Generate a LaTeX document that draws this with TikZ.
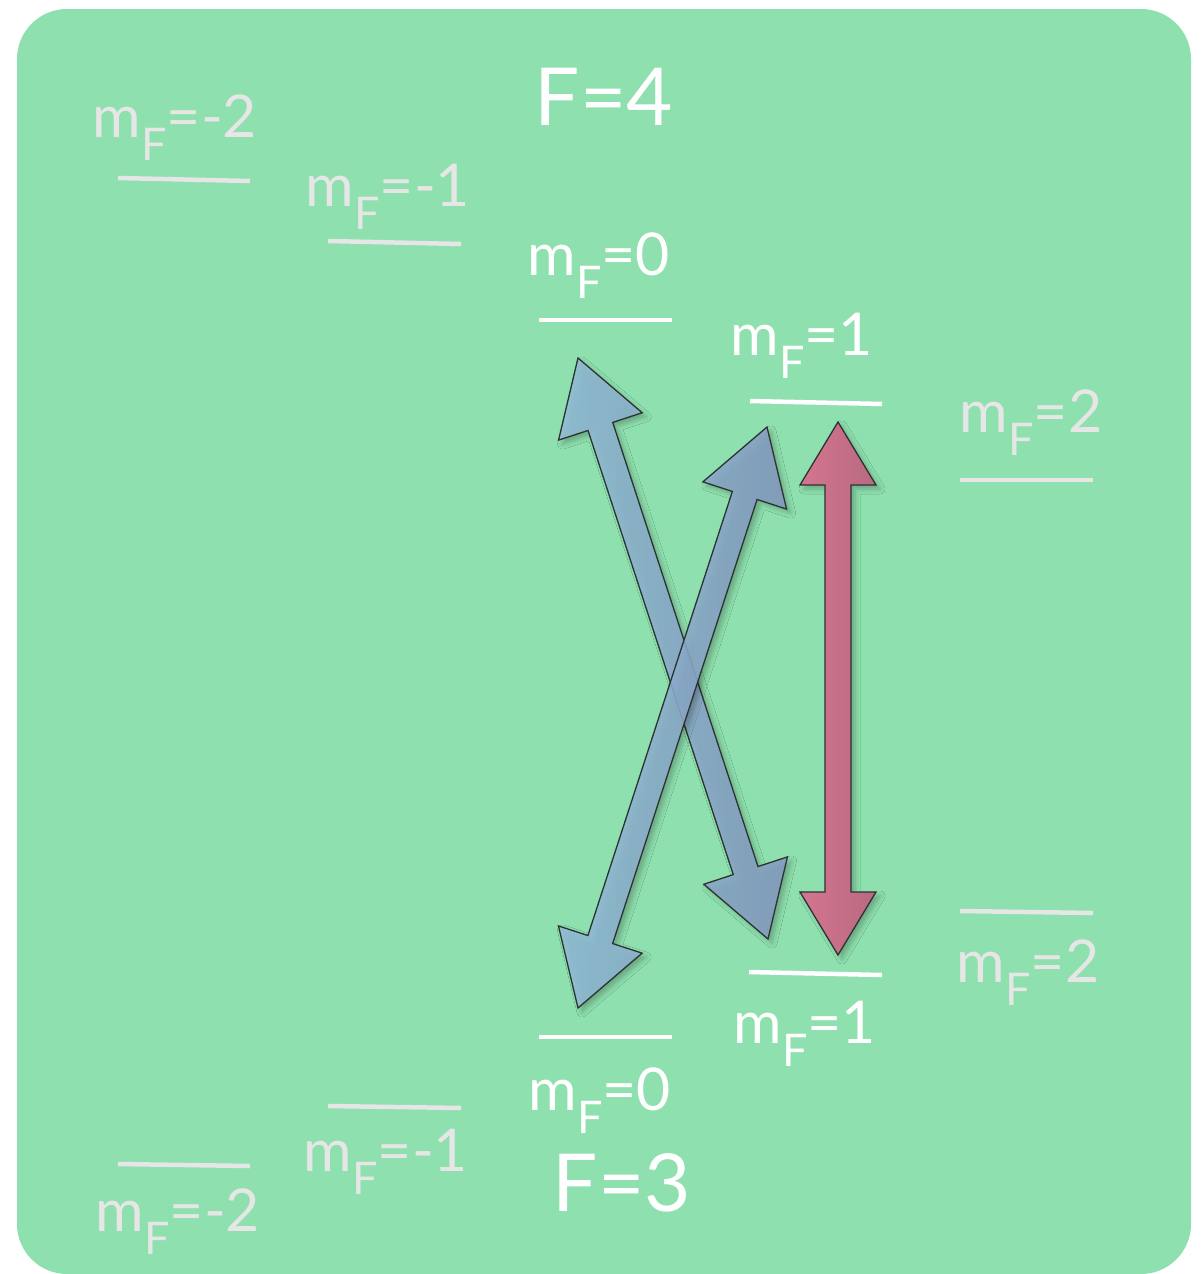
\documentclass[tikz,border=0pt]{standalone}
\usepackage{fontspec}
\setmainfont{Lato}
\usetikzlibrary{calc,shadows.blur}
\definecolor{bggreen}{RGB}{142,224,174}
\definecolor{faint}{RGB}{230,230,230}
\definecolor{blueL}{RGB}{145,189,214}
\definecolor{blueR}{RGB}{133,155,192}
\definecolor{redL}{RGB}{213,117,144}
\definecolor{redR}{RGB}{183,106,128}
\definecolor{edgecol}{RGB}{45,50,50}
\newcommand\mFlab[1]{m\raisebox{-23pt}{\fontsize{45}{45}\selectfont F}=#1}
% #1 style, #2 tip A, #3 tip B, #4 head length, #5 head half width, #6 shaft half width
\newcommand\dblarrow[6]{%
  \path ($(#2)!#4!(#3)$) coordinate (ah) ($(#3)!#4!(#2)$) coordinate (bh);
  \draw[#1] (#2) -- ($(ah)!#5!90:(#3)$) -- ($(ah)!#6!90:(#3)$)
    -- ($(bh)!#6!-90:(#2)$) -- ($(bh)!#5!-90:(#2)$) -- (#3)
    -- ($(bh)!#5!90:(#2)$) -- ($(bh)!#6!90:(#2)$)
    -- ($(ah)!#6!-90:(#3)$) -- ($(ah)!#5!-90:(#3)$) -- cycle;}
\tikzset{
  lab/.style={anchor=base, inner sep=0pt, font=\fontsize{59}{59}\selectfont},
  labw/.style={lab, text=white},
  labg/.style={lab, text=faint},
  bigF/.style={anchor=base, inner sep=0pt, text=white, font=\fontsize{80}{80}\selectfont},
  lvlw/.style={draw=white, line width=4.5pt},
  lvlg/.style={draw=faint, line width=4.5pt},
  arrowshadow/.style={blur shadow={shadow xshift=4pt, shadow yshift=-4pt, shadow blur radius=5pt, shadow opacity=25}},
  bluearrow/.style={draw=edgecol, line width=1.3pt, line join=miter, left color=blueL, right color=blueR, fill opacity=0.88, arrowshadow},
  redarrow/.style={draw=edgecol, line width=1.3pt, line join=miter, left color=redL, right color=redR, arrowshadow}
}
\begin{document}
\begin{tikzpicture}[x=1pt,y=-1pt]
\useasboundingbox (0,0) rectangle (1200,1274);
\fill[bggreen, rounded corners=50pt] (17,9) rectangle (1191,1274);

% headings
\node[bigF] (F4) at (604,125) {F=4};
\node[bigF] (F3) at (622,1211) {F=3};

% upper levels (F=4)
\draw[lvlg] (118,178) -- (250,181);
\draw[lvlg] (328,241) -- (461,244);
\draw[lvlw] (539,320) -- (672,320);
\draw[lvlw] (750,401) -- (882,404);
\draw[lvlg] (960,480) -- (1093,480);
\node[labg] (um2) at (175,137) {\mFlab{-2}};
\node[labg] (um1) at (388,206) {\mFlab{-1}};
\node[labw] (u0)  at (599,275) {\mFlab{0}};
\node[labw] (u1)  at (802,355) {\mFlab{1}};
\node[labg] (u2)  at (1031,432) {\mFlab{2}};

% lower levels (F=3)
\draw[lvlg] (960,911) -- (1093,913);
\draw[lvlw] (749,972) -- (882,975);
\draw[lvlw] (539,1037) -- (672,1037);
\draw[lvlg] (328,1106) -- (461,1108);
\draw[lvlg] (118,1164) -- (250,1166);
\node[labg] (l2)  at (1028,982) {\mFlab{2}};
\node[labw] (l1)  at (805,1043) {\mFlab{1}};
\node[labw] (l0)  at (600,1110) {\mFlab{0}};
\node[labg] (lm1) at (386,1171) {\mFlab{-1}};
\node[labg] (lm2) at (178,1231) {\mFlab{-2}};

% transition arrows
\coordinate (a1) at (578,358);
\coordinate (b1) at (768,939);
\coordinate (a2) at (767,427);
\coordinate (b2) at (578,1008);
\coordinate (a3) at (838,422);
\coordinate (b3) at (838,955);
\dblarrow{bluearrow}{a1}{b1}{72pt}{44pt}{13pt}
\dblarrow{bluearrow}{a2}{b2}{72pt}{44pt}{13pt}
\dblarrow{redarrow}{a3}{b3}{63pt}{38pt}{13pt}
\end{tikzpicture}
\end{document}
